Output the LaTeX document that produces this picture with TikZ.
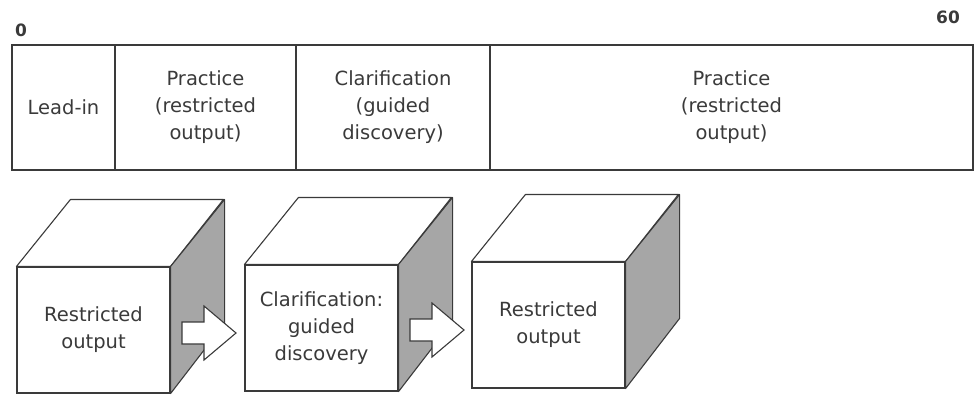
\documentclass[tikz,border=0pt]{standalone}
\usepackage{fontspec}
\setmainfont{DejaVu Sans}
\definecolor{ink}{HTML}{3A3A3A}
\definecolor{shade}{HTML}{A6A6A6}
\tikzset{
  cell/.style={draw=ink,line width=1.1pt,minimum height=125pt,inner sep=0pt,
    align=center,text=ink,font=\fontsize{19.5}{27}\selectfont},
  face/.style={draw=ink,line width=1.1pt,fill=white,minimum width=153pt,
    minimum height=126pt,inner sep=0pt,align=center,text=ink,
    font=\fontsize{19.5}{27}\selectfont},
  num/.style={text=ink,font=\fontsize{17}{20}\selectfont\bfseries,inner sep=0pt},
  blockarrow/.style={draw=ink,line width=1.1pt,fill=white,line join=miter}
}
\begin{document}
\begin{tikzpicture}[x=1pt,y=-1pt]
\useasboundingbox (0,0) rectangle (977,394);
% time line
\node[num] (start) at (21,30) {0};
\node[num] (finish) at (948,17) {60};
\foreach \n/\l/\r/\t in {lead/12/115/Lead-in,
  prac/115/296/{Practice\\(restricted\\output)},
  clar/296/490/{Clarification\\(guided\\discovery)},
  main/490/973/{Practice\\(restricted\\output)}}{
\node[cell,minimum width=\r pt-\l pt] (\n) at ({(\l+\r)/2},107.5) {\t};}
% cubes
\foreach \n/\x/\y/\t in {cubea/17/267/{Restricted\\output},
  cubeb/245/265/{Clarification:\\guided\\discovery},
  cubec/472/262/{Restricted\\output}}{
\begin{scope}[shift={(\x,\y)}]
\node[face] (\n) at (76.5,63) {\t};
\draw[ink,line width=1.1pt,fill=white,line join=round] (\n.north west) -- ++(54,-67) -- ++(153,0) -- (\n.north east) -- cycle;
\draw[ink,line width=1.1pt,fill=shade,line join=round] (\n.north east) -- ++(54,-67) -- ++(0,124) -- (\n.south east) -- cycle;
\end{scope}}
% arrows
\foreach \n/\x/\y in {arra/182/333,arrb/410/330}{
\coordinate (\n) at (\x,\y);
\draw[blockarrow] (\n) ++(0,-11) -- ++(22,0) -- ++(0,-16) -- ++(32,27)
  -- ++(-32,27) -- ++(0,-16) -- ++(-22,0) -- cycle;}
\end{tikzpicture}
\end{document}
